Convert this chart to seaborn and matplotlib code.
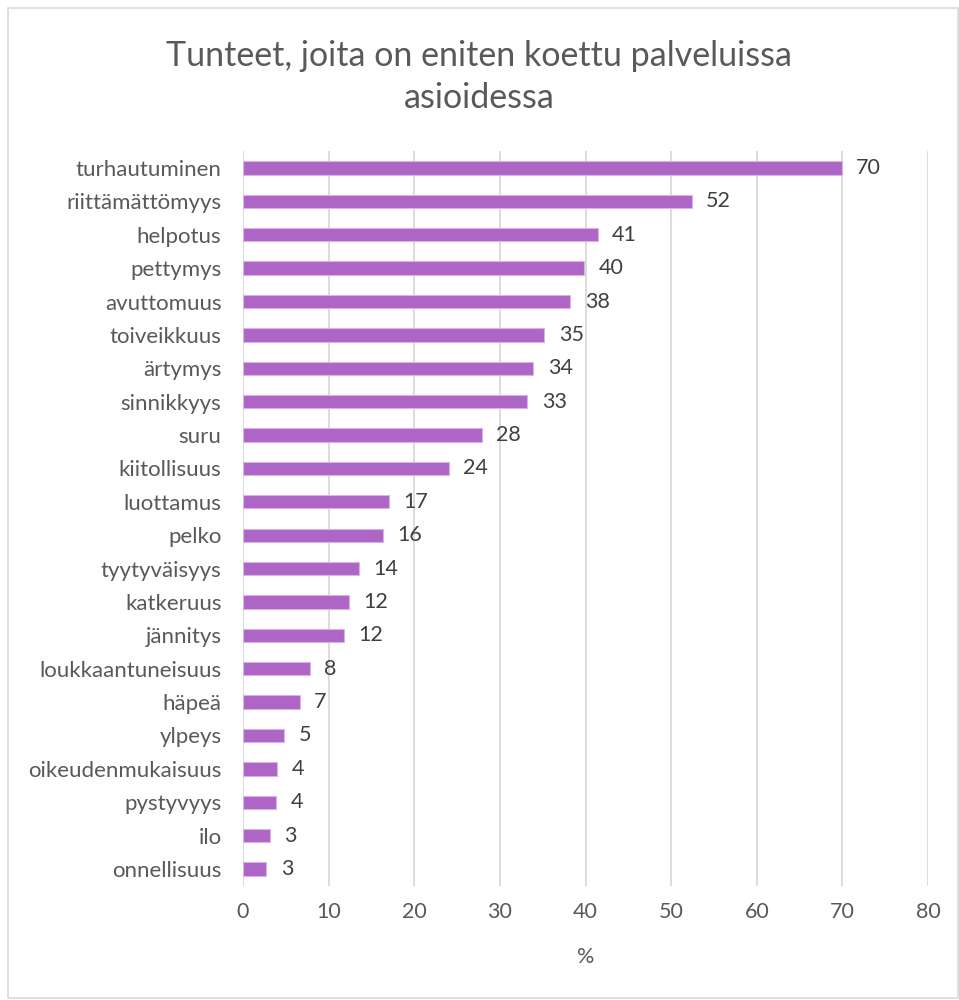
import matplotlib
matplotlib.use("Agg")
import matplotlib.pyplot as plt
import seaborn as sns
import pandas as pd

# values
emotions = [
    "turhautuminen", "riittämättömyys", "helpotus", "pettymys", "avuttomuus",
    "toiveikkuus", "ärtymys", "sinnikkyys", "suru", "kiitollisuus", "luottamus",
    "pelko", "tyytyväisyys", "katkeruus", "jännitys", "loukkaantuneisuus",
    "häpeä", "ylpeys", "oikeudenmukaisuus", "pystyvyys", "ilo", "onnellisuus",
]
percent = [69.9, 52.4, 41.4, 39.8, 38.2, 35.2, 33.9, 33.2, 27.9, 24.0, 17.0,
           16.3, 13.5, 12.4, 11.8, 7.8, 6.6, 4.8, 4.0, 3.9, 3.1, 2.7]
xticks = [0, 10, 20, 30, 40, 50, 60, 70, 80]

title = "Tunteet, joita on eniten koettu palveluissa\nasioidessa"
bar_color = "#AD66C6"
text_color = "#595959"

df = pd.DataFrame({"tunne": emotions, "osuus": percent})

sns.set_theme(style="white")
plt.rcParams["font.family"] = ["Lato", "DejaVu Sans"]

fig = plt.figure(figsize=(9.59, 10), dpi=100)
ax = fig.add_axes([0.2534, 0.1143, 0.7143, 0.7344])

sns.barplot(data=df, x="osuus", y="tunne", orient="h", color=bar_color,
            saturation=1, width=0.4, edgecolor="#D9B3E6", linewidth=0.8,
            ax=ax, zorder=3)

ax.set_xlim(0, 80)
ax.set_xticks(xticks)
ax.set_xticklabels([str(t) for t in xticks], fontsize=15.5, color=text_color)
ax.tick_params(axis="x", length=0, pad=12)
ax.tick_params(axis="y", length=0, pad=15.5, labelsize=16, labelcolor=text_color)
ax.grid(axis="x", color="#D9D9D9", linewidth=1.3, zorder=0)
ax.grid(axis="y", visible=False)
for s in ["top", "right", "bottom", "left"]:
    ax.spines[s].set_visible(False)

ax.set_xlabel("%", fontsize=15.5, color=text_color, labelpad=18)
ax.set_ylabel("")

for i, v in enumerate(percent):
    ax.text(v + 1.7, i, f"{v:.0f}", va="center", ha="left",
            fontsize=15.5, color="#404040")

fig.text(0.5, 0.96, title, ha="center", va="top", fontsize=24.5,
         color=text_color, linespacing=1.4)

# light chart border like the office export
border = plt.Rectangle((0.008, 0.002), 0.991, 0.99, transform=fig.transFigure,
                       fill=False, edgecolor="#D9D9D9", linewidth=1.2)
fig.patches.append(border)

fig.savefig("out.png", dpi=100, facecolor="white")
plt.close(fig)
